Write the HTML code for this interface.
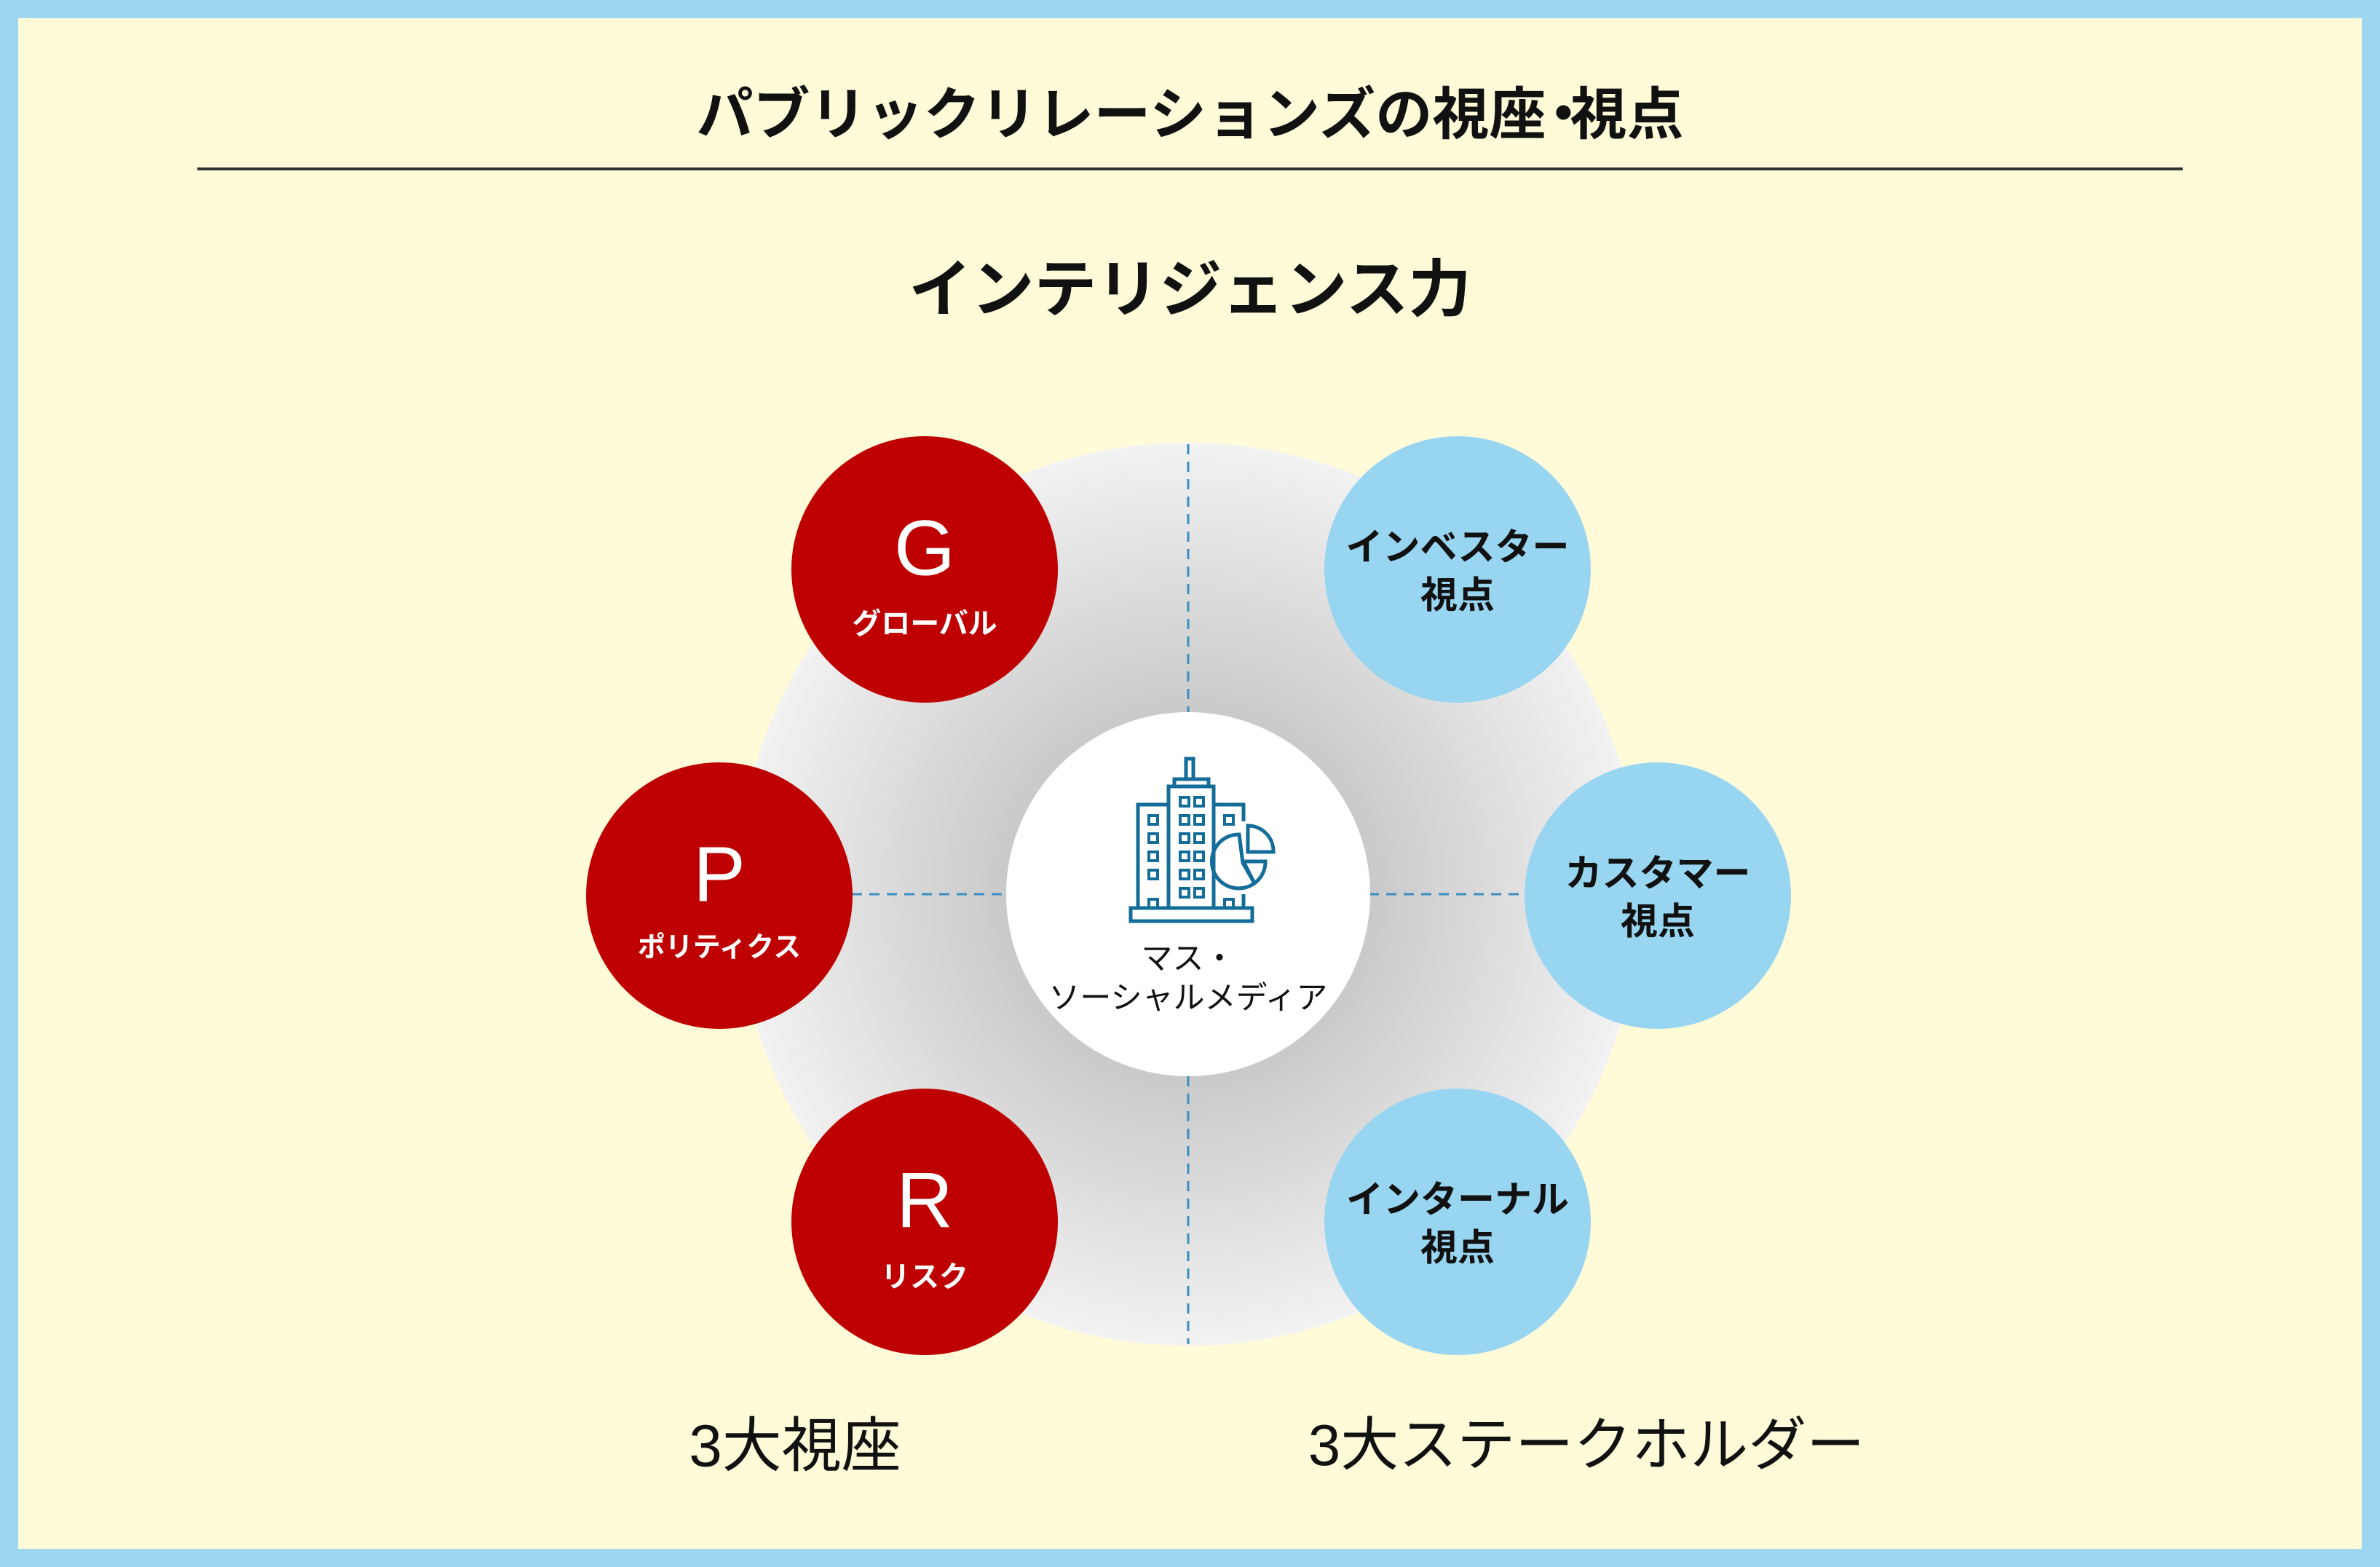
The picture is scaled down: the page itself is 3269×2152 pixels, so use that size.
<!DOCTYPE html>
<html><head><meta charset="utf-8"><style>
html,body{margin:0;padding:0}
body{width:3269px;height:2152px;position:relative;overflow:hidden;background:#9dd6f0;font-family:"Liberation Sans","Noto Sans CJK JP",sans-serif}
.in{position:absolute;left:25px;top:25px;width:3219px;height:2102px;background:#fffbd9}
.t{position:absolute;left:0;width:3269px;text-align:center;white-space:nowrap}
.lbl{position:absolute;transform:translate(-50%,-50%);white-space:nowrap;text-align:center}
</style></head><body>
<div class="in"></div>
<div class="t" style="top:104px;font-size:78px;font-weight:bold;line-height:106px;color:#111">パブリックリレーションズの視座<span style="letter-spacing:-30px;margin-left:-15px">・</span>視点</div>
<div style="position:absolute;left:271px;top:230px;width:2727px;height:4px;background:#333"></div>
<div class="t" style="top:343px;font-size:86px;font-weight:bold;line-height:110px;color:#111">インテリジェンス力</div>
<svg style="position:absolute;left:0;top:0" width="3269" height="2152">
<defs><radialGradient id="g" cx="50%" cy="50%" r="50%">
<stop offset="0.35" stop-color="#c6c6c6"/><stop offset="1" stop-color="#f2f2f2"/></radialGradient></defs>
<circle cx="1632" cy="1228" r="620" fill="url(#g)"/>
<g stroke="#3a8fc0" stroke-width="3" stroke-dasharray="14 10">
<line x1="1632" y1="610" x2="1632" y2="980"/><line x1="1632" y1="1478" x2="1632" y2="1846"/>
<line x1="1170" y1="1228" x2="1385" y2="1228"/><line x1="1880" y1="1228" x2="2095" y2="1228"/>
</g>
<circle cx="1632" cy="1228" r="250" fill="#fff"/>
<circle cx="1270" cy="782" r="183" fill="#be0000"/>
<circle cx="988" cy="1230" r="183" fill="#be0000"/>
<circle cx="1270" cy="1678" r="183" fill="#be0000"/>
<circle cx="2002" cy="782" r="183" fill="#98d5f1"/>
<circle cx="2277" cy="1230" r="183" fill="#98d5f1"/>
<circle cx="2002" cy="1678" r="183" fill="#98d5f1"/>
<g fill="none" stroke="#146c99" stroke-width="5">
<rect x="1629" y="1042" width="10" height="28"/>
<rect x="1613" y="1070" width="47" height="10"/>
<rect x="1605" y="1080" width="62" height="167"/>
<polyline points="1605,1105 1563,1105 1563,1247"/>
<polyline points="1667,1105 1708,1105 1708,1128"/>
<line x1="1667" y1="1105" x2="1667" y2="1160"/>
<line x1="1708" y1="1228" x2="1708" y2="1247"/>
<rect x="1553" y="1247" width="167" height="18"/>
<g stroke-width="4">
<rect x="1621" y="1095" width="12" height="12"/><rect x="1641" y="1095" width="12" height="12"/>
<rect x="1621" y="1120" width="12" height="12"/><rect x="1641" y="1120" width="12" height="12"/>
<rect x="1621" y="1145" width="12" height="12"/><rect x="1641" y="1145" width="12" height="12"/>
<rect x="1621" y="1170" width="12" height="12"/><rect x="1641" y="1170" width="12" height="12"/>
<rect x="1621" y="1195" width="12" height="12"/><rect x="1641" y="1195" width="12" height="12"/>
<rect x="1621" y="1220" width="12" height="12"/><rect x="1641" y="1220" width="12" height="12"/>
<rect x="1578" y="1120" width="12" height="12"/><rect x="1578" y="1145" width="12" height="12"/>
<rect x="1578" y="1170" width="12" height="12"/><rect x="1578" y="1195" width="12" height="12"/>
<rect x="1578" y="1235" width="12" height="12"/><rect x="1682" y="1120" width="12" height="12"/>
<rect x="1682" y="1235" width="12" height="12"/>
</g>
<path d="M1702,1146 A37,37 0 1,0 1723,1213 L1707,1185 Z"/>
<path d="M1714,1134 A35,35 0 0,1 1749,1170 L1714,1170 Z"/>
<path d="M1708,1183 L1738,1183 A36,36 0 0,1 1723,1213 Z"/>
</g>
</svg>
<div class="lbl" style="left:1632px;top:1344px;font-size:43px;color:#111;line-height:54px">マス・<br>ソーシャルメディア</div>
<div class="lbl" style="left:1270px;top:752px;font-size:108px;color:#fff">G</div>
<div class="lbl" style="left:1270px;top:853px;font-size:40px;color:#fff;font-weight:bold">グローバル</div>
<div class="lbl" style="left:988px;top:1200px;font-size:108px;color:#fff">P</div>
<div class="lbl" style="left:988px;top:1297px;font-size:38px;color:#fff;font-weight:bold">ポリティクス</div>
<div class="lbl" style="left:1270px;top:1648px;font-size:108px;color:#fff">R</div>
<div class="lbl" style="left:1270px;top:1750px;font-size:40px;color:#fff;font-weight:bold">リスク</div>
<div class="lbl" style="left:2002px;top:785px;font-size:51px;color:#111;font-weight:bold;line-height:66px">インベスター<br>視点</div>
<div class="lbl" style="left:2277px;top:1233px;font-size:51px;color:#111;font-weight:bold;line-height:66px">カスタマー<br>視点</div>
<div class="lbl" style="left:2002px;top:1681px;font-size:51px;color:#111;font-weight:bold;line-height:66px">インターナル<br>視点</div>
<div class="lbl" style="left:1092px;top:1978px;font-size:82px;color:#111">3大視座</div>
<div class="lbl" style="left:2179px;top:1978px;font-size:80px;color:#111">3大ステークホルダー</div>
</body></html>
